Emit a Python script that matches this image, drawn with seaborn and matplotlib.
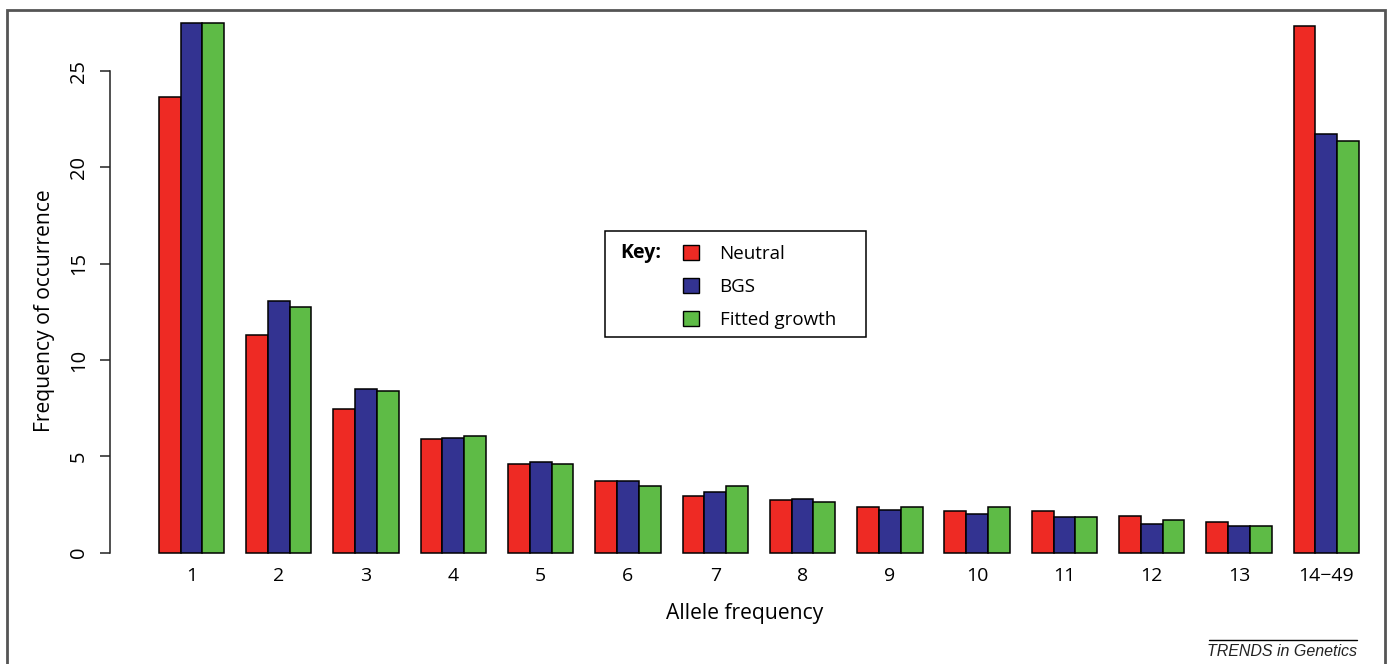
# Imports
import numpy as np
import pandas as pd
import seaborn as sns
import matplotlib.pyplot as plt
from matplotlib.patches import Rectangle
from matplotlib.lines import Line2D

# -------- DATA --------#
categories = ['1', '2', '3', '4', '5', '6', '7', '8', '9', '10', '11', '12', '13', '14\u221249']
neutral = [23.65, 11.30, 7.45, 5.91, 4.58, 3.73, 2.95, 2.75, 2.35, 2.18, 2.18, 1.90, 1.59, 27.35]
bgs = [27.5, 13.08, 8.48, 5.94, 4.72, 3.71, 3.13, 2.77, 2.23, 2.02, 1.83, 1.47, 1.37, 21.73]
growth = [27.5, 12.75, 8.41, 6.08, 4.58, 3.44, 3.46, 2.64, 2.35, 2.35, 1.87, 1.68, 1.40, 21.38]
models = ['Neutral', 'BGS', 'Fitted growth']
y_ticks = [0, 5, 10, 15, 20, 25]

colors = ['#EE2A24', '#333391', '#5EBB46']

# long-form table for seaborn
df = pd.DataFrame({
    'Allele frequency': categories * 3,
    'Model': np.repeat(models, len(categories)),
    'Frequency': neutral + bgs + growth,
})

# -------- PLOT --------#
sns.set_style('ticks')
plt.rcParams['font.family'] = ['Open Sans', 'DejaVu Sans']
for key in ['text.color', 'axes.labelcolor', 'xtick.color', 'ytick.color']:
    plt.rcParams[key] = 'black'

W, H = 1389, 664
fig = plt.figure(figsize=(W / 100, H / 100), dpi=100)

# axes placed in pixel terms
left_px, right_px, bottom_px, top_px = 110, 1380, 552.7, 23
ax = fig.add_axes([left_px / W, 1 - bottom_px / H,
                   (right_px - left_px) / W, (bottom_px - top_px) / H])

sns.barplot(data=df, x='Allele frequency', y='Frequency', hue='Model',
            order=categories, hue_order=models, palette=colors,
            width=0.75, gap=0, saturation=1, errorbar=None,
            edgecolor='black', linewidth=1.1, ax=ax)

for bar in ax.patches:
    bar.set_clip_on(False)

# category 0 centre at pixel 191.45, spacing 87.3 px
step = 87.3
c0 = 191.45
ax.set_xlim((left_px - c0) / step, (right_px - c0) / step)
ax.set_ylim(0, 27.5)

# axes style (R-like)
for side in ['top', 'right', 'bottom']:
    ax.spines[side].set_visible(False)
ax.spines['left'].set_bounds(0, 25)
ax.spines['left'].set_color('#222222')
ax.spines['left'].set_linewidth(1.1)
ax.set_yticks(y_ticks)
ax.set_yticklabels([str(t) for t in y_ticks], rotation=90, va='center')
ax.tick_params(axis='y', length=7, width=1.1, pad=8, labelsize=14.5, color='#222222')
ax.tick_params(axis='x', length=0, pad=10, labelsize=14)

ax.set_xlabel('Allele frequency', fontsize=15.2, labelpad=13.5)
ax.set_ylabel('Frequency of occurrence', fontsize=15.2)
ax.yaxis.set_label_coords((45 - left_px) / (right_px - left_px),
                          (bottom_px - 311) / (bottom_px - top_px))
ax.yaxis.label.set_va('center')

# legend ("Key:" box)
handles, labels = ax.get_legend_handles_labels()
leg = ax.legend(handles, labels, loc='upper left',
                bbox_to_anchor=(683 / W, 1 - 245 / H), bbox_transform=fig.transFigure,
                frameon=False, fontsize=13.5, handlelength=0.85, handleheight=0.85,
                handletextpad=1.1, labelspacing=0.8, borderpad=0, borderaxespad=0)
for h in leg.legend_handles:
    h.set_edgecolor('black')
    h.set_linewidth(1.0)

fig.patches.append(Rectangle((605 / W, 1 - 337 / H), (866 - 605) / W, (337 - 231) / H,
                             transform=fig.transFigure, fill=False,
                             edgecolor='black', linewidth=1.1))
fig.text(620 / W, 1 - 253 / H, 'Key:', fontsize=14, fontweight='bold',
         ha='left', va='center')

# outer frame (bottom edge cut off)
fig.patches.append(Rectangle((7 / W, -0.05), (1385 - 7) / W, 1.05 - 10 / H,
                             transform=fig.transFigure, fill=False,
                             edgecolor='#555555', linewidth=2))

# journal caption
fig.lines.append(Line2D([1209 / W, 1357 / W], [1 - 640 / H, 1 - 640 / H],
                        transform=fig.transFigure, color='black', linewidth=1))
fig.text(1357 / W, 1 - 652 / H, 'TRENDS in Genetics', fontsize=11.5,
         family='Liberation Sans', style='italic', ha='right', va='center',
         color='#222222')

fig.savefig('out.png', dpi=100)
